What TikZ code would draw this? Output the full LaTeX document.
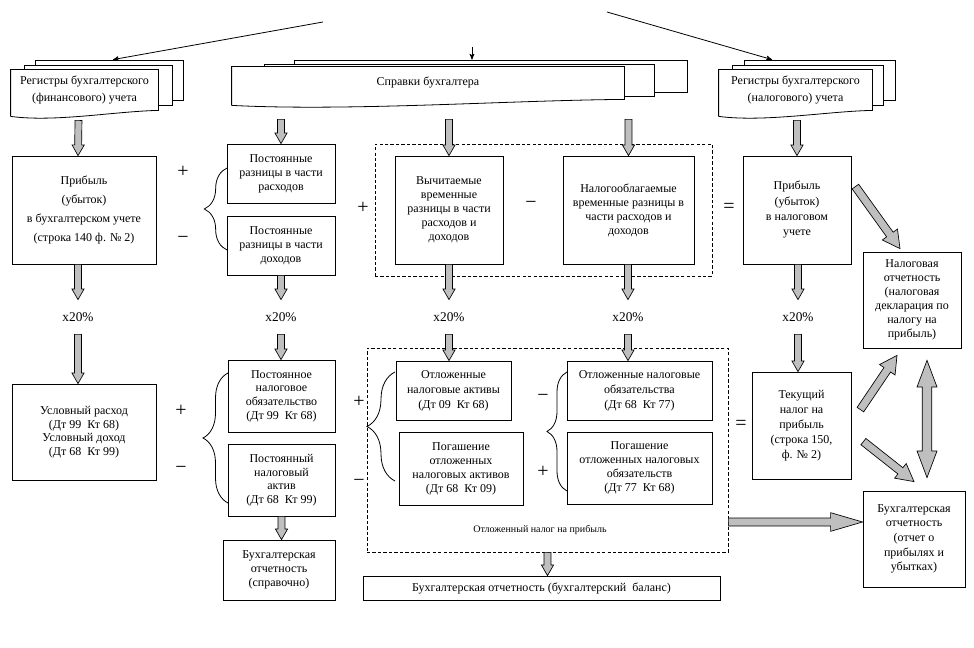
\documentclass[tikz,border=0pt]{standalone}
\usepackage{fontspec}
\setmainfont{Liberation Serif}
\usepackage{tikz}
\usetikzlibrary{arrows,calc,decorations.pathreplacing}

% sizes of the grey block arrows
\newcommand{\fatsw}{2.6pt}
\newcommand{\fathw}{4.6pt}
\newcommand{\fathl}{8pt}
% front sheet of a stack, wavy bottom
\newcommand{\docsheet}[1]{%
  \draw ($(#1.south west)+(0,6)$) -- (#1.north west) -- (#1.north east)
    -- (#1.south east)
    .. controls ($(#1.south east)!0.3!(#1.south west)+(0,1)$)
    and ($(#1.south east)!0.7!(#1.south west)+(0,12)$)
    .. ($(#1.south west)+(0,6)$);}

\tikzset{
  fat/.style={draw=black, fill=gray!50, line width=0.5pt, to path={
    let \p1=(\tikztostart), \p2=(\tikztotarget),
        \n1={atan2(\y2-\y1,\x2-\x1)} in
    ($(\p1)+(\n1+90:\fatsw)$)
    -- ($(\p2)!\fathl!(\p1)+(\n1+90:\fatsw)$)
    -- ($(\p2)!\fathl!(\p1)+(\n1+90:\fathw)$)
    -- (\p2)
    -- ($(\p2)!\fathl!(\p1)+(\n1-90:\fathw)$)
    -- ($(\p2)!\fathl!(\p1)+(\n1-90:\fatsw)$)
    -- ($(\p1)+(\n1-90:\fatsw)$) -- cycle}},
  fatboth/.style={draw=black, fill=gray!50, line width=0.5pt,
    /utils/exec={\def\fatsw{3.6pt}\def\fathw{7.5pt}\def\fathl{20pt}},
    to path={
    let \p1=(\tikztostart), \p2=(\tikztotarget),
        \n1={atan2(\y2-\y1,\x2-\x1)} in
    (\p1)
    -- ($(\p1)!\fathl!(\p2)+(\n1+90:\fathw)$)
    -- ($(\p1)!\fathl!(\p2)+(\n1+90:\fatsw)$)
    -- ($(\p2)!\fathl!(\p1)+(\n1+90:\fatsw)$)
    -- ($(\p2)!\fathl!(\p1)+(\n1+90:\fathw)$)
    -- (\p2)
    -- ($(\p2)!\fathl!(\p1)+(\n1-90:\fathw)$)
    -- ($(\p2)!\fathl!(\p1)+(\n1-90:\fatsw)$)
    -- ($(\p1)!\fathl!(\p2)+(\n1-90:\fatsw)$)
    -- ($(\p1)!\fathl!(\p2)+(\n1-90:\fathw)$) -- cycle}},
  bighead/.style={/utils/exec={\def\fatsw{3pt}\def\fathw{7pt}\def\fathl{13pt}}},
  longhead/.style={/utils/exec={\def\fatsw{3pt}\def\fathw{7pt}\def\fathl{24pt}}},
}

\begin{document}
\begin{tikzpicture}[x=0.75pt, y=-0.75pt
	,>=stealth'
	,line width=0.6pt
	,font=\fontsize{9}{10.5}\selectfont
	,sz/.style 2 args={minimum width=#1*0.75pt, minimum height=#2*0.75pt}
	,brc/.style={decorate, decoration={brace, amplitude=#1}}]
  \tikzstyle{box}=[draw, fill=white, inner sep=1pt, align=center]
  \tikzstyle{sheet}=[box, draw=none]
  \tikzstyle{dash box}=[draw, dash pattern=on 2.5pt off 1.6pt]
  \tikzstyle{sign}=[font=\fontsize{15}{15}\selectfont, inner sep=0pt]
  \tikzstyle{rate}=[minimum height=34*0.75pt, inner sep=0pt, font=\fontsize{10}{11}\selectfont]

  \useasboundingbox (0,0) rectangle (974,648);

  % 3 stacks of documents
  \node[box, sz={148}{40}] (rfin3) at (109,80) {};
  \node[box, sz={148}{40}] (rfin2) at (98,85) {};
  \node[sheet, sz={147}{40}, font=\fontsize{9}{12.5}\selectfont]
    (rfin) at (84.5,90) {Регистры бухгалтерского\\(финансового) учета};
  \docsheet{rfin}
  \node[box, sz={393}{32}] (sprav3) at (490.5,76) {};
  \node[box, sz={390}{32}] (sprav2) at (459,80) {};
  \node[sheet, sz={392}{32}] (sprav) at (428,83) {Справки бухгалтера};
  \docsheet{sprav}
  \node[box, sz={151}{40}] (rnal3) at (819.5,80) {};
  \node[box, sz={151}{40}] (rnal2) at (807.5,85) {};
  \node[sheet, sz={153}{40}, font=\fontsize{9}{12.5}\selectfont]
    (rnal) at (795.5,90) {Регистры бухгалтерского\\(налогового) учета};
  \docsheet{rnal}

  % profit, differences
  \node[box, sz={144}{108}, font=\fontsize{9}{14.2}\selectfont] (pbu) at (84,210)
    {Прибыль\\(убыток)\\в бухгалтерском учете\\(строка 140 ф. № 2)};
  \node[box, sz={108}{59}] (prash) at (281,173.5) {Постоянные\\разницы в части\\расходов};
  \node[box, sz={108}{59}] (pdoh) at (281,245.5) {Постоянные\\разницы в части\\доходов};
  \node[dash box, sz={337}{132}] (dt1) at (543.5,210) {};
  \node[box, sz={108}{108}] (vych) at (449,210)
    {Вычитаемые\\временные\\разницы в части\\расходов и\\доходов};
  \node[box, sz={131}{108}] (nalob) at (628.5,210)
    {Налогооблагаемые\\временные разницы в\\части расходов и\\доходов};
  \node[box, sz={108}{108}, font=\fontsize{9}{11.5}\selectfont] (pnu) at (797,210)
    {Прибыль\\(убыток)\\в налоговом\\учете};
  \node[box, sz={98}{96}] (nalotch) at (912,300)
    {Налоговая\\отчетность\\(налоговая\\декларация по\\налогу на\\прибыль)};

  % x 20%
  \node[rate] (r1) at (78,317) {x20\%};
  \node[rate] (r2) at (281,317) {x20\%};
  \node[rate] (r3) at (449,317) {x20\%};
  \node[rate] (r4) at (628,317) {x20\%};
  \node[rate] (r5) at (798,317) {x20\%};

  % tax entries
  \node[box, sz={144}{96}, font=\fontsize{9}{10.2}\selectfont] (usl) at (84,432)
    {Условный расход\\(Дт 99~~Кт 68)\\Условный доход\\(Дт 68~~Кт 99)};
  \node[box, sz={107}{72}, font=\fontsize{9}{10.2}\selectfont] (pno) at (281.5,396)
    {Постоянное\\налоговое\\обязательство\\(Дт 99~~Кт 68)};
  \node[box, sz={107}{72}, font=\fontsize{9}{10.2}\selectfont] (pna) at (281.5,480)
    {Постоянный\\налоговый\\актив\\(Дт 68~~Кт 99)};
  \node[box, sz={112}{60}] (bspr) at (279,570)
    {Бухгалтерская\\отчетность\\(справочно)};
  \node[dash box, sz={361}{204}] (dt2) at (547.5,450) {};
  \node[box, sz={115}{59}, font=\fontsize{9}{11.2}\selectfont] (ona) at (453.5,390.5)
    {Отложенные\\налоговые активы\\(Дт 09~~Кт 68)};
  \node[box, sz={124}{73}] (pgona) at (461,468.5)
    {Погашение\\отложенных\\налоговых активов\\(Дт 68~~Кт 09)};
  \node[box, sz={145}{59}, font=\fontsize{9}{11.2}\selectfont] (ono) at (639.5,390.5)
    {Отложенные налоговые\\обязательства\\(Дт 68~~Кт 77)};
  \node[box, sz={145}{72}] (pgono) at (639.5,468)
    {Погашение\\отложенных налоговых\\обязательств\\(Дт 77~~Кт 68)};
  \node[font=\fontsize{7.5}{8}\selectfont] (otlab) at (540,530)
    {Отложенный налог на прибыль};
  \node[box, sz={357}{24}] (bbal) at (541.5,588)
    {Бухгалтерская отчетность (бухгалтерский~~баланс)};
  \node[box, sz={99}{107}, font=\fontsize{9}{11.2}\selectfont] (tek) at (801.5,425.5)
    {Текущий\\налог на\\прибыль\\(строка 150,\\ф. № 2)};
  \node[box, sz={102}{96}, font=\fontsize{9}{11}\selectfont] (botch) at (914,539)
    {Бухгалтерская\\отчетность\\(отчет о\\прибылях и\\убытках)};

  % signs
  \node[sign] (pl1) at (183,172) {+};
  \node[sign] (mi1) at (183,240) {−};
  \node[sign] (pl2) at (363,208) {+};
  \node[sign] (mi2) at (531,205) {−};
  \node[sign] (eq1) at (729,208) {=};
  \node[sign] (pl3) at (181,411) {+};
  \node[sign] (mi3) at (181,470) {−};
  \node[sign] (pl4) at (359,402) {+};
  \node[sign] (mi4) at (359,483) {−};
  \node[sign] (mi5) at (543,398) {−};
  \node[sign] (pl5) at (543,472) {+};
  \node[sign] (eq2) at (741,425) {=};

  % braces
  \draw[brc=17pt]    (227,250) -- (227,168);
  \draw[brc=18.75pt] (228,503) -- (228,373);
  \draw[brc=21pt]    (395,481) -- (395,372);
  \draw[brc=15pt]    (567,491) -- (567,372);

  % thin arrows on top
  \coordinate (src1) at (323,22);
  \coordinate (src2) at (472,47);
  \coordinate (src3) at (607,12);
  \path [->] (src1) edge ($(rfin3.north)+(4,0)$);
  \path [->] (src2) edge ($(sprav3.north)+(-18.5,0)$);
  \path [->] (src3) edge ($(rnal3.north)+(-47.5,0)$);

  % block arrows, top down
  \path ($(rfin.south)+(-6,10)$)                 edge [fat] ($(pbu.north)+(-6,0)$);
  \path ($(prash.north |- sprav.south)+(0,20)$)  edge [fat] (prash.north);
  \path ($(vych.north |- sprav.south)+(0,20)$)   edge [fat] (vych.north);
  \path ($(nalob.north |- sprav.south)+(0,20)$)  edge [fat] (nalob.north);
  \path ($(pnu.north |- rnal.south)+(0,10)$)     edge [fat] (pnu.north);
  % x20%
  \path (pbu.south -| r1.north)   edge [fat] (r1.north);
  \path (r1.south)                edge [fat] (usl.north -| r1.south);
  \path (pdoh.south)              edge [fat] (r2.north);
  \path (r2.south)                edge [fat] (pno.north -| r2.south);
  \path (vych.south)              edge [fat] (r3.north);
  \path (r3.south)                edge [fat] (ona.north -| r3.south);
  \path (nalob.south -| r4.north) edge [fat] (r4.north);
  \path (r4.south)                edge [fat] (ono.north -| r4.south);
  \path (pnu.south -| r5.north)   edge [fat] (r5.north);
  \path (r5.south)                edge [fat] (tek.north -| r5.south);
  % to the reports
  \path (pna.south)               edge [fat] (bspr.north -| pna.south);
  \path (dt2.south)               edge [fat] (bbal.north -| dt2.south);
  \coordinate (pl) at ($(botch.west)+(0,-17)$);
  \path (dt2.east |- pl)          edge [fat, longhead] (pl);
  \path ($(pnu.north east)+(4,31)$)  edge [fat, bighead] ($(nalotch.north)+(-12,-3)$);
  \path ($(tek.north east)+(9,38)$)  edge [fat, bighead] ($(nalotch.south)+(-15,7)$);
  \path ($(tek.north east)+(12,70)$) edge [fat, bighead] ($(botch.north)+(0,-9)$);
  \path ($(nalotch.south)+(15,12)$)  edge [fatboth] ($(botch.north)+(13,-13)$);

\end{tikzpicture}
\end{document}
